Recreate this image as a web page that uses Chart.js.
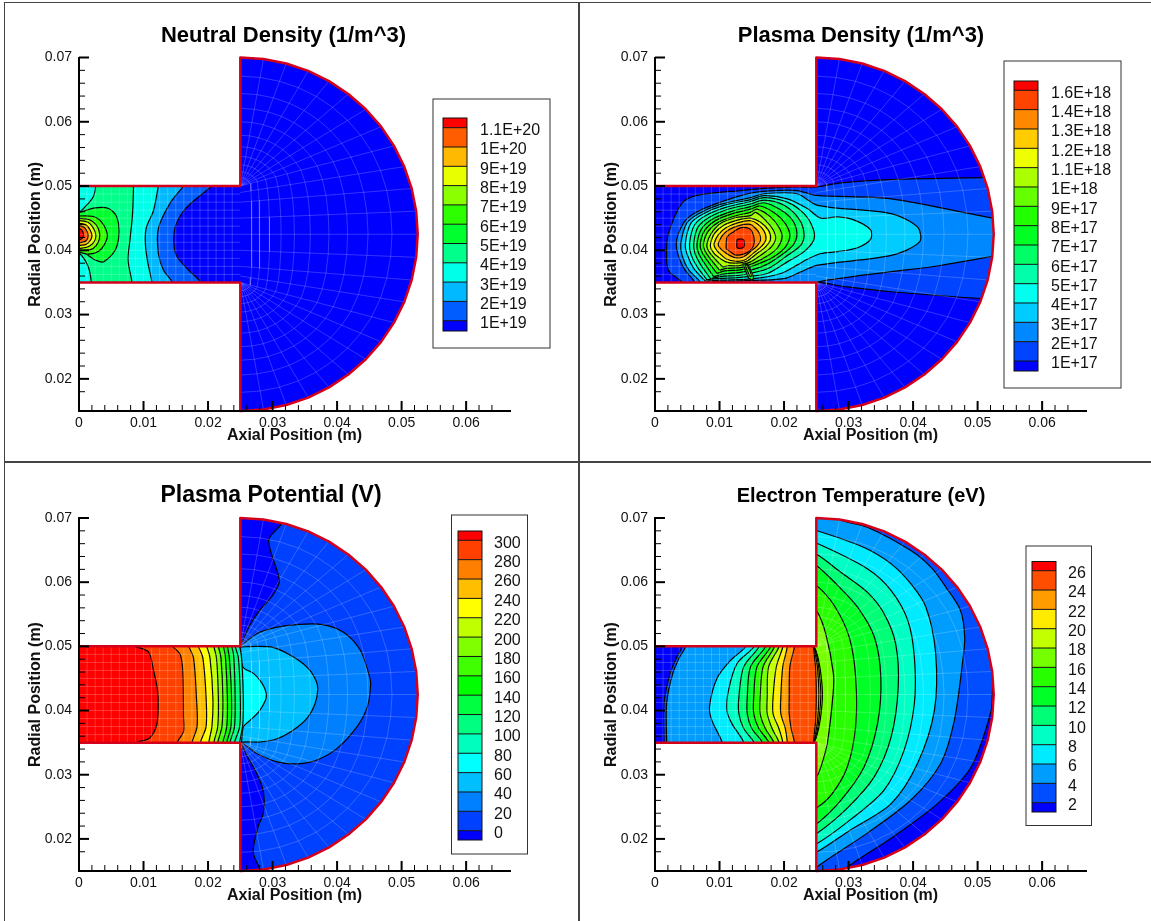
<!DOCTYPE html>
<html>
<head>
<meta charset="utf-8">
<title>Hall thruster plume</title>
<script src="https://cdn.jsdelivr.net/npm/chart.js@4/dist/chart.umd.min.js"></script>
<style>
	html, body { margin: 0; padding: 0; background: #fff; overflow: hidden; }
	body { width: 1151px; height: 921px; position: relative; }
	canvas { position: absolute; }
	.rule { position: absolute; background: #444; }
</style>
</head>
<body>
<div class="rule" style="left:4px;top:2px;width:1147px;height:1px"></div>
<div class="rule" style="left:4px;top:2px;width:1px;height:919px"></div>
<div class="rule" style="left:578px;top:2px;width:2px;height:919px"></div>
<div class="rule" style="left:4px;top:461px;width:1147px;height:2px"></div>
<canvas id="neutral" width="571" height="459" style="left:4px;top:2px"></canvas>
<canvas id="density" width="571" height="459" style="left:580px;top:2px"></canvas>
<canvas id="potential" width="571" height="459" style="left:4px;top:462px"></canvas>
<canvas id="temperature" width="571" height="459" style="left:580px;top:462px"></canvas>
<script>
// All contour readings below are in millimetres, [axial, radial].

const plumeArc = [
	[25, 70], [28.59, 69.76], [32.12, 69.06], [35.52, 67.91], [38.75, 66.32], [41.74, 64.32], [44.45, 61.95],
	[46.82, 59.24], [48.82, 56.25], [50.41, 53.02], [51.56, 49.62], [52.26, 46.09], [52.5, 42.5],
	[52.26, 38.91], [51.56, 35.38], [50.41, 31.98], [48.82, 28.75], [46.82, 25.76], [44.45, 23.05],
	[41.74, 20.68], [38.75, 18.68], [35.52, 17.09], [32.12, 15.94], [28.59, 15.24], [25, 15],
]
const wallPoints = [[0, 50], [25, 50], ...plumeArc, [25, 35], [0, 35]]

// Body-fitted mesh of the simulation.
const meshChannelX = [1.25, 2.5, 3.75, 5, 6.25, 7.5, 8.75, 10, 11.25, 12.5, 13.75, 15, 16.25, 17.5, 18.75, 20, 21.25, 22.5, 23.75]
const meshChannelY = [36.25, 37.5, 38.75, 40, 41.25, 42.5, 43.75, 45, 46.25, 47.5, 48.75]
const meshAnchorY = [50, 50, 50, 50, 50, 50, 50, 50, 50, 49, 47.5, 45, 42.5, 40, 37.5, 36, 35, 35, 35, 35, 35, 35, 35, 35, 35]
const meshFractions = [0.855, 0.72, 0.605, 0.5, 0.395, 0.305, 0.23, 0.165, 0.11, 0.065]

const neutralLevels = ['1.1E+20', '1E+20', '9E+19', '8E+19', '7E+19', '6E+19', '5E+19', '4E+19', '3E+19', '2E+19', '1E+19']
const densityLevels = ['1.6E+18', '1.4E+18', '1.3E+18', '1.2E+18', '1.1E+18', '1E+18', '9E+17', '8E+17', '7E+17', '6E+17', '5E+17', '4E+17', '3E+17', '2E+17', '1E+17']
const potentialLevels = ['300', '280', '260', '240', '220', '200', '180', '160', '140', '120', '100', '80', '60', '40', '20', '0']
const temperatureLevels = ['26', '24', '22', '20', '18', '16', '14', '12', '10', '8', '6', '4', '2']

// A line running top to bottom through the channel, closed around everything on its left.
const leftOfLine = line => [
	...line,
	[line[line.length - 1][0], 34], [-1, 34], [-1, 51], [line[0][0], 51],
]

// A line through the plume plus a line (bottom to top) through the channel.
const plumeAndChannel = (plume, channel) => [
	[24, plume[0][1]], ...plume, [24, plume[plume.length - 1][1]], [24, 34],
	[channel[0][0], 34], ...channel, [channel[channel.length - 1][0], 51], [24, 51],
]

// [band, outline], painted in this order over the lowest band.
const neutralRegions = [
	[1, leftOfLine([[20.6, 50], [16.5, 46.5], [14.9, 43.6], [14.7, 41], [15.2, 39], [17, 36.9], [18.8, 35.1]])],
	[2, leftOfLine([[16.2, 50], [14.1, 47.3], [12.3, 43.4], [12.3, 39.5], [13.1, 36.9], [14.4, 35.1]])],
	[3, leftOfLine([[12.3, 50], [11.55, 46.2], [10.4, 43.4], [10.3, 40.8], [10.7, 37.9], [11.3, 35.1]])],
	[4, [[2.6, 51], [8.45, 51], [8.45, 50], [8.3, 45.7], [7.9, 41.6], [7.6, 38.5], [8.2, 35.1], [8.2, 34], [1.9, 34], [1.9, 35.1], [1.45, 37.4], [0.1, 39.5], [-1, 39.5], [-1, 46], [0.1, 46], [0.7, 46.5], [2.2, 48.3], [2.6, 50]]],
	[5, [[-1, 45.9], [0, 45.9], [2.5, 46.6], [4.6, 46.5], [5.85, 45.2], [6.2, 42.6], [5.6, 40], [3.8, 38.2], [2.5, 38.5], [1.45, 39.2], [0, 40.3], [-1, 40.3]]],
	[6, [[-1, 45.3], [2, 45.3], [3.5, 44.4], [4.4, 42.4], [4, 41], [3, 39.8], [1.45, 39.4], [0, 39.7], [-1, 39.7]]],
	[7, [[-1, 45], [1.5, 44.8], [2.7, 43.9], [3.2, 42.6], [3, 41.3], [2.2, 40.3], [1, 40], [-1, 40.2]]],
	[8, [[-1, 44.7], [1.3, 44.4], [2.2, 43.5], [2.6, 42.4], [2.4, 41.4], [1.7, 40.7], [0.8, 40.4], [-1, 40.5]]],
	[9, [[-1, 44.3], [1, 44], [1.7, 43.2], [2, 42.3], [1.8, 41.6], [1.2, 41], [0.5, 40.8], [-1, 40.9]]],
	[10, [[-1, 44], [0.8, 43.6], [1.3, 42.8], [1.4, 42.2], [1.2, 41.6], [0.7, 41.3], [-1, 41.2]]],
	[11, [[-1, 43.6], [0.4, 43.2], [0.7, 42.5], [0.6, 42], [0.2, 41.7], [-1, 41.6]]],
]

const densityRegions = [
	[1, [[4.15, 34.5], [4.15, 35.1], [2.07, 36.9], [1.8, 40], [2.07, 42.6], [4.15, 47.3], [6.5, 48.55], [13.2, 49.3], [18.4, 49.7], [22, 49.85], [25, 49.85], [28.8, 50.5], [36.6, 51], [50.6, 51.3], [54, 51.3], [54, 32.5], [50.6, 32.5], [36.6, 33.55], [29.8, 34.3], [25.2, 35], [25, 34.5]]],
	[2, [[6.2, 34.5], [6.2, 35], [4.3, 37.5], [3.3, 41], [4.4, 44.2], [6, 45.7], [9.6, 47.3], [14.8, 48.9], [18.4, 49.3], [22, 49.3], [25, 48.55], [36.6, 48], [52.4, 45], [54, 45], [54, 39.05], [52.4, 39.05], [44, 37.6], [36, 36.6], [25.3, 35.1], [25, 34.5]]],
	[3, [[7, 34.6], [7, 35.1], [5.2, 37], [4.2, 39.2], [4, 41], [4.9, 44.2], [6.75, 45.7], [10.1, 47.15], [14.8, 48.2], [16.9, 48.8], [22, 48.8], [25.2, 47], [36.6, 45.7], [40.7, 43.6], [41, 41.3], [36.6, 39.2], [25.2, 37.7], [22.6, 36.65], [20, 35.6], [13.2, 35.25], [9, 35.1], [8, 34.6]]],
	[4, [[7.8, 35.2], [6, 37.2], [5, 39.3], [4.7, 41], [5.55, 44.2], [7.5, 45.7], [10.65, 47], [14.8, 47.9], [16.9, 48.5], [20.5, 48], [23.6, 46.5], [25.7, 45], [28.3, 45.2], [30.9, 44.7], [33.4, 43.2], [33.4, 41.7], [31.4, 40.4], [28.3, 39.8], [25.7, 39.5], [23.6, 38.6], [22, 37.7], [19.5, 36.4], [15.3, 35.6], [10.1, 35.35]]],
	[5, [[8.05, 35.4], [6.5, 37.5], [5.6, 39.3], [5.35, 41], [6.1, 43.9], [7.95, 45.45], [11.2, 46.75], [14.8, 47.6], [16.9, 48.2], [20.5, 47.5], [23.1, 45.7], [24.5, 43.4], [24.6, 41.6], [23.1, 39.8], [20.5, 38.2], [17.4, 36.4], [13.2, 35.8], [9.6, 35.6]]],
	[6, [[8.6, 35.6], [7, 37.9], [6.2, 39.5], [6, 41], [6.65, 43.6], [8.5, 45.2], [11.7, 46.5], [14.8, 47.2], [16.9, 47.8], [20, 47], [22.3, 44.9], [23.1, 42.6], [22.6, 40.8], [20.5, 39.2], [17.6, 37.2], [13.7, 36.2], [10.2, 35.9]]],
	[7, [[9.1, 35.9], [7.4, 38.4], [6.7, 39.7], [6.5, 41], [7.2, 43.3], [9, 44.9], [12, 46.1], [14.8, 46.8], [16.9, 47.4], [19.45, 46.3], [21.3, 44.7], [22, 42.6], [21.4, 40.8], [19.5, 39.2], [17.1, 37.7], [13.7, 36.65], [10.6, 36.3]]],
	[8, [[9.6, 36.4], [7.9, 38.7], [7.2, 39.9], [7, 41], [7.7, 43.1], [9.5, 44.7], [12.3, 45.8], [14.8, 46.4], [16.3, 46.9], [18.7, 45.7], [20.2, 44.15], [20.9, 42.35], [20.2, 40.5], [18.4, 39], [16.3, 38], [13.4, 37], [10.8, 36.8]]],
	[9, [[10, 36.9], [8.4, 38.9], [7.7, 40], [7.5, 41], [8.2, 42.9], [9.9, 44.4], [12.6, 45.4], [14.8, 45.9], [15.8, 46.4], [17.9, 45.2], [19.2, 43.6], [19.7, 42.1], [19, 40.4], [17.4, 39.1], [15.3, 38], [13.2, 37.3], [11, 37.2]]],
	[10, [[10.5, 37.4], [8.9, 39.1], [8.2, 40.1], [8.05, 41], [8.7, 42.6], [10.2, 44.2], [12.6, 45.1], [14.8, 45.4], [15.6, 45.9], [17.1, 44.7], [18.3, 43.2], [18.7, 41.8], [18, 40.5], [16.6, 39.4], [14.8, 38.2], [13, 37.6], [11.4, 37.6]]],
	// Tight cluster of small closed contours under the peak.
	[7, [[13.6, 38], [14.3, 37.9], [15.3, 35.6], [14.6, 35.6]]],
	[9, [[13.9, 37.9], [14.2, 37.8], [15, 36], [14.7, 36]]],
	[11, [[9.35, 39.3], [8.7, 40.2], [8.6, 41], [9.2, 42.6], [10.65, 43.9], [12.8, 44.7], [14.8, 45], [16.3, 44.4], [17.6, 43.1], [17.9, 41.7], [17.1, 40.5], [15.8, 39.5], [14.2, 38.3], [12.6, 38], [11, 38.2]]],
	[12, [[9.8, 39.7], [9.3, 40.4], [9.15, 41], [9.8, 42.4], [11, 43.5], [12.9, 44.3], [14.8, 44.6], [15.9, 44.1], [16.9, 43], [17.2, 41.7], [16.5, 40.6], [15.3, 39.6], [13.9, 38.5], [12.5, 38.3], [11, 38.7]]],
	[13, [[10.3, 40.1], [9.9, 40.6], [9.8, 41], [10.4, 42.25], [11.45, 43.2], [13, 43.85], [14.75, 44.05], [15.45, 43.55], [16.15, 42.7], [16.35, 41.55], [15.8, 40.65], [14.85, 39.85], [13.65, 38.95], [12.45, 38.85], [11.25, 39.4]]],
	[14, [[11, 40.3], [11.2, 42.1], [12.2, 42.9], [13.2, 43.5], [14.6, 43.4], [15.1, 42.8], [15.4, 41.3], [14.9, 40.1], [13.7, 39.4], [12.4, 39.3]]],
	[15, [[12.7, 41.7], [13.7, 41.7], [13.75, 40.5], [12.75, 40.4]]],
]

const potentialRegions = [
	[0, [[25.3, 50.7], [26.3, 53], [27.85, 55.4], [30.2, 58.2], [31.05, 60.3], [29.4, 66.5], [31.3, 69], [32, 71], [24, 71], [24, 50.7]]],
	[0, [[25.3, 34.6], [26, 33.06], [27.3, 30.7], [28.4, 28.1], [28.7, 26.1], [28.5, 23.7], [27.85, 22.2], [27, 18], [28.1, 15.2], [28.5, 14], [24, 14], [24, 34.6]]],
	[2, leftOfLine([[25, 50], [27.6, 52], [30.7, 53], [33.8, 53.4], [37.7, 53.4], [41, 52.2], [43.6, 49.4], [44.9, 45.75], [45.2, 44.2], [44.7, 40.6], [43.1, 37.5], [40, 34.1], [36.9, 32.3], [33.8, 31.7], [30.7, 32], [27.6, 33.3], [25, 35.1]])],
	[3, leftOfLine([[25, 49.9], [27.6, 50], [30.2, 49.8], [33.3, 48.3], [35.6, 46.5], [36.8, 44.5], [37, 43.2], [36.6, 41.1], [35.35, 38.8], [33.3, 37], [30.7, 35.6], [28.1, 35.1], [25, 35]])],
	[4, leftOfLine([[25, 50], [25.4, 46.8], [27.1, 45.75], [28.4, 44.2], [29, 42.75], [28.9, 41.6], [27.85, 39.8], [26.55, 38.5], [25.5, 37.5], [25.2, 35.1]])],
	[5, leftOfLine([[24.9, 50], [25.2, 48.2], [25.45, 42.5], [25.4, 38], [24.9, 35]])],
	[6, leftOfLine([[24.2, 50], [24.7, 48.2], [25, 42], [24.9, 37.5], [24.1, 35]])],
	[7, leftOfLine([[23.7, 50], [24, 48.2], [24.2, 42], [24.1, 37.5], [23.4, 35]])],
	[8, leftOfLine([[23, 50], [23.3, 48.2], [23.65, 42], [23.55, 37.5], [22.9, 35]])],
	[9, leftOfLine([[22.4, 50], [22.7, 48.2], [23, 42], [22.9, 37.5], [22.3, 35]])],
	[10, leftOfLine([[21.6, 50], [22, 48.2], [22.3, 42], [22.15, 37.5], [21.5, 35]])],
	[11, leftOfLine([[20.9, 50], [21.3, 48.2], [21.6, 42], [21.5, 37.5], [20.9, 35]])],
	[12, leftOfLine([[19.8, 50], [20.3, 48.2], [20.75, 42], [20.6, 37.5], [20.1, 35]])],
	[13, leftOfLine([[18.5, 50], [19.2, 48.2], [19.7, 42], [19.7, 37.5], [18.8, 35]])],
	[14, leftOfLine([[17, 50], [17.75, 48.2], [18.2, 42], [18.3, 37.5], [17.5, 35]])],
	[15, leftOfLine([[14.5, 50], [15.7, 48.7], [16.1, 45.9], [16.2, 39.1], [16.2, 36.7], [15.2, 35]])],
	[16, leftOfLine([[8.7, 50], [10.8, 49.1], [11.5, 46.5], [12.2, 42.9], [12.2, 38.8], [11.8, 37], [10.8, 35.6], [9, 35]])],
]

const temperatureRegions = [
	[1, plumeAndChannel(
		[[24, 71], [54, 71], [54, 44.2], [52.5, 44.2], [52.1, 40], [49, 31.2], [43.8, 25.5], [36.6, 20.1], [29.3, 15.2], [29.3, 14]],
		[[1.4, 35.1], [1.4, 41.1], [2.33, 45.75], [3.37, 48.3], [4.15, 49.8]])],
	[2, plumeAndChannel(
		[[28, 71], [28.3, 69.85], [32.9, 68.55], [39.7, 64.9], [42.8, 62.3], [45.1, 59.2], [47.35, 55.6], [48, 51.45], [47.7, 47.8], [46.4, 38.5], [44.3, 31.8], [39.7, 26.1], [32.9, 20.9], [25.2, 15.7], [25, 15]],
		[[1.8, 35.1], [1.8, 41.1], [2.75, 45.75], [3.8, 48.3], [4.67, 49.8]])],
	[3, plumeAndChannel(
		[[25, 68.05], [32.4, 65.4], [36.6, 62.85], [39.7, 59.7], [42, 56.1], [43.5, 48.9], [43.3, 40], [40.7, 31.8], [36.6, 25.5], [30.3, 21.4], [25, 17.9]],
		[[10.4, 35.1], [8.8, 38.5], [8.45, 40.6], [9.6, 45], [11.7, 47.8], [14, 49.9]])],
	[4, plumeAndChannel(
		[[25, 66.1], [32.9, 62.1], [36.6, 58.7], [39.2, 54], [40.2, 48.3], [40.2, 41.1], [38.6, 33.8], [35.5, 27.6], [30.3, 23], [25, 19.2]],
		[[13.75, 35.1], [11.9, 38], [11.15, 40], [11.4, 43.2], [12.7, 47.3], [15.3, 49.9]])],
	[5, plumeAndChannel(
		[[25, 64.4], [28.8, 61.55], [32.9, 58.45], [35.5, 55.1], [37.3, 50.4], [37.7, 43.7], [36.6, 35.9], [34, 29.7], [29.8, 24.8], [25, 20.8]],
		[[15.3, 35.1], [13.75, 37.2], [13, 39.5], [13, 42.1], [13.75, 46.8], [16.1, 49.9]])],
	[6, plumeAndChannel(
		[[25, 62.6], [28.3, 59.5], [31.4, 56.1], [34, 51.45], [35, 45.2], [34.5, 38], [32.4, 31.2], [28.8, 26], [25, 22.3]],
		[[16.6, 35.1], [15, 37.2], [14.3, 39.5], [14.3, 42.1], [14.8, 46.8], [17.1, 49.9]])],
	[7, plumeAndChannel(
		[[25, 59.5], [27.75, 56.4], [30.1, 51.45], [31.1, 45.2], [31.1, 37.5], [29.8, 31.2], [27.5, 27.1], [25, 24.8]],
		[[17.6, 35.1], [16.1, 37.2], [15.3, 39.5], [15.3, 42.1], [15.8, 46.8], [17.9, 49.9]])],
	[8, plumeAndChannel(
		[[25, 55.6], [26.45, 52], [27.65, 45.75], [27.6, 42.6], [26.7, 34.9], [25.7, 31.2], [25, 29.7]],
		[[18.4, 35.1], [17.1, 37.2], [16.3, 39.5], [16.3, 42.1], [16.75, 46.8], [18.5, 49.9]])],
	[9, plumeAndChannel(
		[[24.4, 50.2], [25, 49.2], [25.6, 46.5], [25.95, 42.5], [25.6, 38.5], [25, 35.8], [24.4, 34.8]],
		[[19.2, 35.1], [18.15, 37.2], [17.4, 39.5], [17.4, 42.1], [17.6, 46.8], [19.2, 49.9]])],
	[10, plumeAndChannel(
		[[24.5, 50], [25, 48.8], [25.4, 46.5], [25.7, 42.5], [25.4, 38.5], [25, 36.2], [24.5, 35]],
		[[19.8, 35.1], [19.2, 37.2], [18.3, 39.5], [18.3, 42.1], [18.8, 46.8], [19.8, 49.9]])],
	[11, plumeAndChannel(
		[[24.6, 50], [24.9, 48.5], [25.2, 46.5], [25.4, 42.5], [25.2, 38.5], [24.9, 36.5], [24.6, 35]],
		[[20.5, 35.1], [20.2, 37.2], [19.5, 39.5], [19.5, 42.1], [19.8, 46.8], [20.5, 49.9]])],
	[12, plumeAndChannel(
		[[24.5, 50], [24.7, 48.5], [24.9, 46.5], [25, 42.5], [24.9, 38.5], [24.7, 36.5], [24.5, 35]],
		[[21.6, 35.1], [21.1, 37.2], [20.8, 39.5], [20.8, 42.1], [20.9, 46.8], [21.6, 49.9]])],
]

const panels = [
	{
		id: 'neutral', title: 'Neutral Density (1/m^3)', titleSize: 22, titleCenter: 279.5, originX: 4, originY: 2, plotTop: 55.5,
		levels: neutralLevels, regions: neutralRegions, baseBand: 0,
		legend: { left: 433, top: 99, right: 550, bottom: 348, barLeft: 443, barRight: 467, barTop: 118, firstLine: 127.7, lastLine: 320.7, barBottom: 331, labelX: 480 },
	},
	{
		id: 'density', title: 'Plasma Density (1/m^3)', titleSize: 22, titleCenter: 281, originX: 580, originY: 2, plotTop: 55.5,
		levels: densityLevels, regions: densityRegions, baseBand: 0,
		legend: { left: 1004, top: 61, right: 1121, bottom: 388, barLeft: 1014, barRight: 1038, barTop: 81, firstLine: 90.3, lastLine: 361, barBottom: 371, labelX: 1051 },
	},
	{
		id: 'potential', title: 'Plasma Potential (V)', titleSize: 23, titleCenter: 267, originX: 4, originY: 462, plotTop: 56,
		levels: potentialLevels, regions: potentialRegions, baseBand: 1,
		legend: { left: 451.5, top: 515, right: 527.5, bottom: 854, barLeft: 458, barRight: 482, barTop: 531, firstLine: 540.3, lastLine: 830.7, barBottom: 840, labelX: 494 },
	},
	{
		id: 'temperature', title: 'Electron Temperature (eV)', titleSize: 20, titleCenter: 281, originX: 580, originY: 462, plotTop: 56,
		levels: temperatureLevels, regions: temperatureRegions, baseBand: 0,
		legend: { left: 1026, top: 546, right: 1091.5, bottom: 825.5, barLeft: 1032, barRight: 1056, barTop: 561.5, firstLine: 570.7, lastLine: 802.7, barBottom: 812, labelX: 1068 },
	},
]

const toMeters = outline => outline.map(([x, y]) => ({ x: x / 1000, y: y / 1000 }))

// Blue, cyan, green, yellow, red, evenly over the bands.
const bandColor = (band, bandCount) => {
	const stops = [[0, 0, 255], [0, 255, 255], [0, 255, 0], [255, 255, 0], [255, 0, 0]]
	const position = band / (bandCount - 1) * 4
	const from = Math.min(Math.floor(position), 3)
	const mix = position - from
	const rgb = stops[from].map((value, i) => Math.round(value + (stops[from + 1][i] - value) * mix))
	return `rgb(${rgb.join(',')})`
}

const meshSegments = () => {
	const gap = { x: NaN, y: NaN }
	const points = []
	meshChannelX.forEach((x) => { points.push({ x: x / 1000, y: 0.035 }, { x: x / 1000, y: 0.05 }, gap) })
	meshChannelY.forEach((y) => { points.push({ x: 0, y: y / 1000 }, { x: 0.025, y: y / 1000 }, gap) })
	plumeArc.forEach(([x, y], i) => {
		points.push({ x: 0.025, y: meshAnchorY[i] / 1000 }, { x: x / 1000, y: y / 1000 }, gap)
	})
	meshFractions.forEach((fraction) => {
		plumeArc.forEach(([x, y], i) => {
			const anchorY = meshAnchorY[i]
			points.push({ x: (25 + (x - 25) * fraction) / 1000, y: (anchorY + (y - anchorY) * fraction) / 1000 })
		})
		points.push(gap)
	})
	return points
}

const buildDatasets = (panel) => {
	const bandCount = panel.levels.length + 1
	const regionDataset = (band, outline, borderWidth) => ({
		data: toMeters([...outline, outline[0]]),
		showLine: true,
		fill: 'shape',
		backgroundColor: bandColor(band, bandCount),
		borderColor: '#000',
		borderWidth,
		borderJoinStyle: 'round',
		tension: borderWidth ? 0.3 : 0,
		cubicInterpolationMode: 'default',
		capBezierPoints: false,
		pointRadius: 0,
		clip: false,
	})
	const painted = [
		regionDataset(panel.baseBand, wallPoints, 0),
		...panel.regions.map(([band, outline]) => regionDataset(band, outline, 1.2)),
	]
	// Chart.js paints the first dataset last.
	return [
		{
			label: 'wall',
			data: toMeters(wallPoints),
			showLine: true,
			borderColor: '#d4001a',
			borderWidth: 2.5,
			borderJoinStyle: 'round',
			pointRadius: 0,
			clip: false,
		},
		{
			data: meshSegments(),
			showLine: true,
			spanGaps: false,
			borderColor: 'rgba(255,255,255,0.2)',
			borderWidth: 1,
			pointRadius: 0,
			clip: false,
		},
		...painted.reverse(),
	]
}

// Keeps the contour fills inside the thruster walls; the wall line itself is drawn unclipped.
const domainClip = {
	id: 'domainClip',
	beforeDatasetsDraw(chart) {
		const { ctx, scales } = chart
		ctx.save()
		ctx.beginPath()
		wallPoints.forEach(([x, y]) => {
			ctx.lineTo(scales.x.getPixelForValue(x / 1000), scales.y.getPixelForValue(y / 1000))
		})
		ctx.closePath()
		ctx.clip()
	},
	beforeDatasetDraw(chart, args) {
		if (args.index === 0) chart.ctx.restore()
	},
}

const insideTicks = {
	id: 'insideTicks',
	afterDraw(chart) {
		const { ctx, scales, chartArea } = chart
		const isMultiple = (value, step) => Math.abs(value / step - Math.round(value / step)) < 1e-6
		ctx.save()
		ctx.strokeStyle = '#000'
		scales.x.ticks.forEach(({ value }) => {
			if (!isMultiple(value, 0.002)) return
			const major = isMultiple(value, 0.01)
			const x = scales.x.getPixelForValue(value)
			ctx.lineWidth = major ? 2 : 1
			ctx.beginPath()
			ctx.moveTo(x, chartArea.bottom)
			ctx.lineTo(x, chartArea.bottom - (major ? 10 : 6))
			ctx.stroke()
		})
		scales.y.ticks.forEach(({ value }) => {
			if (!isMultiple(value, 0.002)) return
			const major = isMultiple(value, 0.01)
			const y = scales.y.getPixelForValue(value)
			ctx.lineWidth = major ? 2 : 1
			ctx.beginPath()
			ctx.moveTo(chartArea.left, y)
			ctx.lineTo(chartArea.left + (major ? 10 : 6), y)
			ctx.stroke()
		})
		ctx.restore()
	},
}

const contourLegend = {
	id: 'contourLegend',
	afterDraw(chart, args, options) {
		const { ctx } = chart
		const { box, levels, originX, originY } = options
		const bandCount = levels.length + 1
		const spacing = (box.lastLine - box.firstLine) / (levels.length - 1)
		const barWidth = box.barRight - box.barLeft
		ctx.save()
		ctx.translate(-originX, -originY)
		ctx.fillStyle = '#fff'
		ctx.strokeStyle = '#333'
		ctx.lineWidth = 1
		ctx.fillRect(box.left, box.top, box.right - box.left, box.bottom - box.top)
		ctx.strokeRect(box.left, box.top, box.right - box.left, box.bottom - box.top)
		for (let band = 0; band < bandCount; band += 1) {
			const top = band === bandCount - 1 ? box.barTop : box.firstLine + spacing * (bandCount - 2 - band)
			const bottom = band === 0 ? box.barBottom : box.firstLine + spacing * (bandCount - 1 - band)
			ctx.fillStyle = bandColor(band, bandCount)
			ctx.fillRect(box.barLeft, top, barWidth, bottom - top)
		}
		ctx.strokeStyle = '#111'
		levels.forEach((label, i) => {
			const y = box.firstLine + spacing * i
			ctx.beginPath()
			ctx.moveTo(box.barLeft, y)
			ctx.lineTo(box.barRight, y)
			ctx.stroke()
			ctx.fillStyle = '#111'
			ctx.font = '16px "Liberation Sans"'
			ctx.textBaseline = 'middle'
			ctx.textAlign = 'left'
			ctx.fillText(label, box.labelX, y + 3)
		})
		ctx.strokeRect(box.barLeft, box.barTop, barWidth, box.barBottom - box.barTop)
		ctx.restore()
	},
}

const centerTitle = {
	id: 'centerTitle',
	afterLayout(chart, args, options) {
		chart.titleBlock.left = 0
		chart.titleBlock.right = options.center * 2
	},
}

const tickLabel = (value) => {
	const hundredths = value * 100
	if (Math.abs(hundredths - Math.round(hundredths)) > 1e-6) return ''
	return Math.round(hundredths) === 0 ? '0' : (Math.round(hundredths) / 100).toFixed(2)
}

const axis = (min, max, title, fit, titlePadding, labelPadding) => ({
	type: 'linear',
	min,
	max,
	afterFit: fit,
	grid: { display: false, drawTicks: false },
	border: { display: true, color: '#000', width: 2, z: 1 },
	title: {
		display: true,
		text: title,
		color: '#111',
		font: { family: '"Liberation Sans"', size: 16, weight: 'bold' },
		padding: titlePadding,
	},
	ticks: {
		stepSize: 0.002,
		autoSkip: false,
		maxRotation: 0,
		padding: labelPadding,
		color: '#111',
		font: { family: '"Liberation Sans"', size: 14 },
		callback: tickLabel,
	},
})

panels.forEach((panel) => {
	const titleTop = 34 - 0.6 * panel.titleSize
	new Chart(document.getElementById(panel.id), {
		type: 'scatter',
		data: { datasets: buildDatasets(panel) },
		plugins: [domainClip, insideTicks, contourLegend, centerTitle],
		options: {
			responsive: false,
			animation: false,
			events: [],
			layout: { padding: { right: 65 } },
			scales: {
				x: axis(0, 0.0668, 'Axial Position (m)', (scale) => { scale.height = 50 }, { top: 0, bottom: 16 }, 4),
				y: axis(0.015, 0.07, 'Radial Position (m)', (scale) => { scale.width = 75 }, { top: 22, bottom: 0 }, 7),
			},
			plugins: {
				legend: { display: false },
				tooltip: { enabled: false },
				title: {
					display: true,
					text: panel.title,
					color: '#000',
					font: { family: '"Liberation Sans"', size: panel.titleSize, weight: 'bold' },
					padding: { top: titleTop, bottom: panel.plotTop - titleTop - 1.2 * panel.titleSize },
				},
				centerTitle: { center: panel.titleCenter },
				contourLegend: { box: panel.legend, levels: panel.levels, originX: panel.originX, originY: panel.originY },
			},
		},
	})
})
</script>
</body>
</html>
